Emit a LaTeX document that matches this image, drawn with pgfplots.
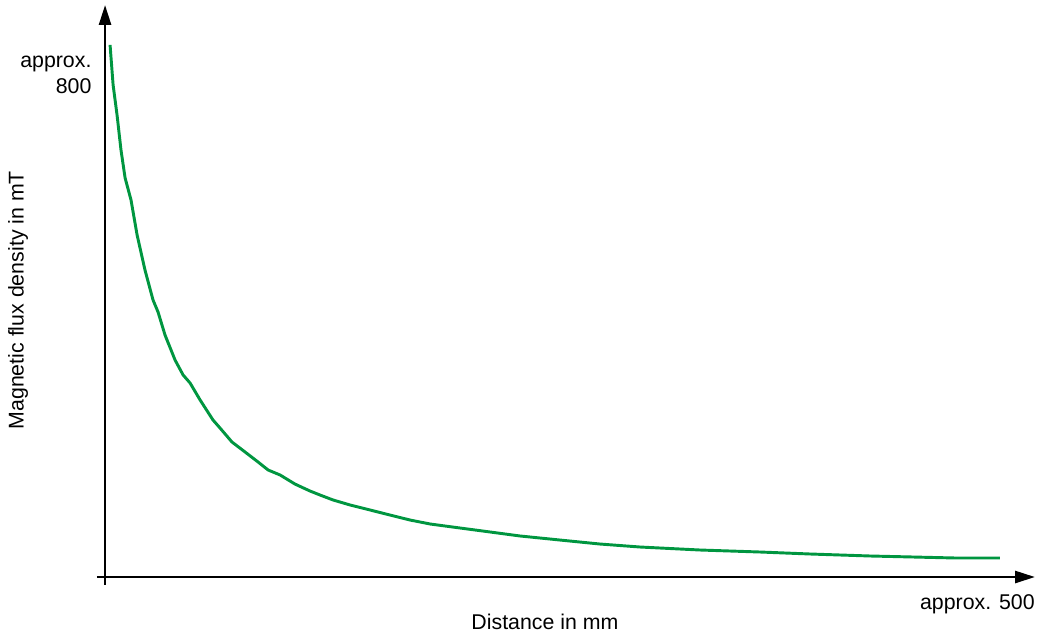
\documentclass[border=0pt]{standalone}
\usepackage{fontspec}
\setmainfont{Liberation Sans}
\usepackage{pgfplots}
\pgfplotsset{compat=1.18}
\usetikzlibrary{arrows.meta}
\definecolor{curvegreen}{RGB}{0,150,64}

\begin{document}
\begin{tikzpicture}
\begin{axis}[
    scale only axis,
    width=703.5pt, height=435pt,
    axis lines=middle,
    xmin=-4.5, xmax=519.6,
    ymin=-12, ymax=860,
    xtick=\empty, ytick=\empty,
    axis line style={line width=2pt, -{Triangle[length=15pt,width=9pt]}},
    every axis label/.style={font=\fontsize{16}{19}\selectfont},
    xlabel={Distance in mm},
    xlabel style={at={(rel axis cs:0.4776,-0.0638)}, anchor=center},
    ylabel={Magnetic flux density in mT},
    ylabel style={at={(rel axis cs:-0.0842,0.491)}, anchor=center, rotate=90},
    clip=false,
]
\addplot[curvegreen, line width=2.2pt, line join=round] coordinates {
    (2.8,800) (4.5,739.8) (6.7,694.7) (8.9,642.1) (11.2,600) (14.5,566.9)
    (17.9,514.3) (22.3,461.7) (26.8,416.5) (29.6,398.5) (33.5,363.9)
    (39.1,326.3) (43.6,303.8) (47.5,291.7) (53.1,266.2) (60.3,236.1)
    (64.2,224.1) (70.9,203.0) (78.2,188.0) (85.5,172.9) (91.1,160.9)
    (97.8,153.4) (106.1,139.8) (114.5,129.3) (120.1,123.3) (127.4,115.8)
    (136.9,108.3) (148.0,100.8) (159.2,93.2) (170.4,85.7) (181.6,79.7)
    (198.3,73.7) (215.1,67.7) (231.8,61.7) (254.2,55.6) (276.5,49.6)
    (298.9,45.1) (332.4,40.6) (365.9,37.6) (393.9,34.6) (427.4,31.6)
    (474.9,28.6) (500,28.6)
};
\node[anchor=east, align=right, inner sep=0pt, font=\fontsize{16}{19}\selectfont]
    at (axis cs:0,755) [xshift=-10pt] {approx.\\800};
\node[anchor=north east, inner sep=0pt, font=\fontsize{16}{19}\selectfont]
    at (axis cs:519.6,0) [yshift=-13pt] {approx. 500};
\end{axis}
\path[use as bounding box] ([shift={(-72.75pt,-36.75pt)}]current axis.south west)
    rectangle ([shift={(708pt,438.75pt)}]current axis.south west);
\end{tikzpicture}
\end{document}
